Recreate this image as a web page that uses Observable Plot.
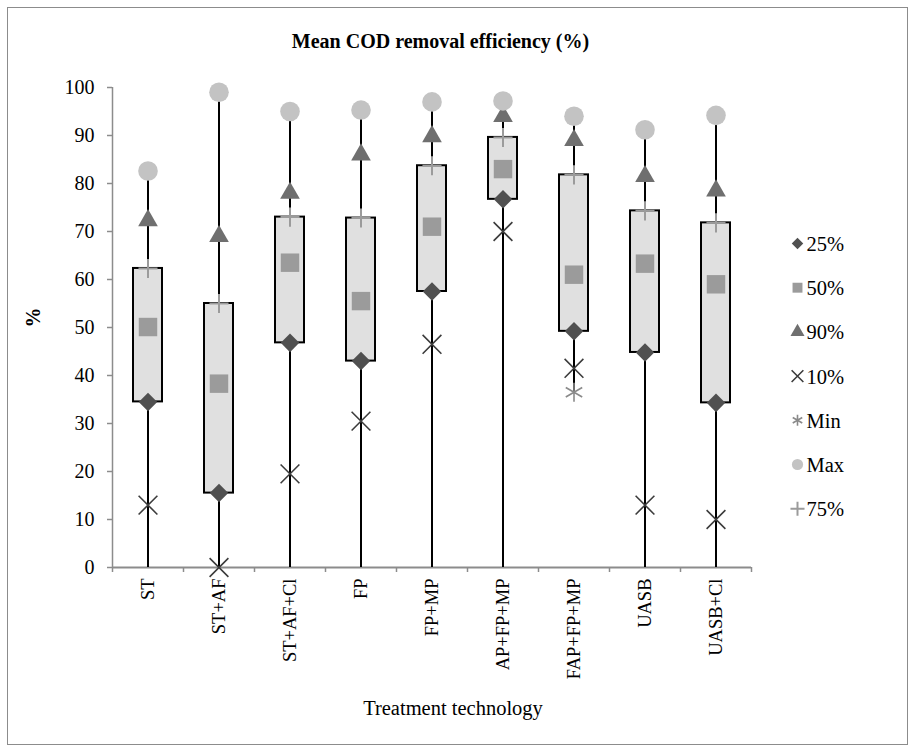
<!DOCTYPE html>
<html><head><meta charset="utf-8">
<script src="https://cdn.jsdelivr.net/npm/d3@7"></script>
<script src="https://cdn.jsdelivr.net/npm/@observablehq/plot@0.6"></script>
<style>
body{margin:0;background:#fff;}
#wrap{position:relative;width:910px;height:748px;}
#border{position:absolute;left:7px;top:7px;width:899px;height:736px;border:1px solid #8c8c8c;pointer-events:none;}
</style></head><body><div id="wrap"><div id="border"></div></div>
<script>
const categories = ["ST","ST+AF","ST+AF+Cl","FP","FP+MP","AP+FP+MP","FAP+FP+MP","UASB","UASB+Cl"];
const p25 = [34.5, 15.5, 46.8, 43.0, 57.5, 76.7, 49.2, 44.8, 34.3];
const p50 = [50.1, 38.3, 63.5, 55.5, 71.0, 83.0, 61.0, 63.3, 59.0];
const p75 = [62.3, 55.0, 73.0, 72.8, 83.7, 89.6, 81.8, 74.3, 71.8];
const p90 = [72.3, 69.0, 78.0, 86.0, 89.8, 94.0, 89.0, 81.5, 78.5];
const p10 = [13.0, 0.0, 19.5, 30.5, 46.5, 70.0, 41.5, 13.0, 10.0];
const minV = [0, 0, 0, 0, 0, 0, 36.5, 0, 0];
const maxV = [82.6, 99.0, 95.0, 95.3, 97.0, 97.2, 94.0, 91.2, 94.2];
const yTicks = [0,10,20,30,40,50,60,70,80,90,100];
const xDomain = [-0.5, categories.length - 0.5];

const rows = categories.map((c, i) => ({i, cat: c, p25: p25[i], p50: p50[i], p75: p75[i], p90: p90[i], p10: p10[i], min: minV[i], max: maxV[i]}));

const serif = "'Liberation Serif','Times New Roman','DejaVu Serif',serif";
const gray = "#8c8c8c";

const styles = {
  p25: {symbol: "square", rotate: 45, fill: "#505050", r: 7.4, lr: 4.6},
  p50: {symbol: "square", fill: "#9b9b9b", r: 10.4, lr: 5.6},
  p90: {symbol: "triangle", fill: "#6f6f6f", r: 7.3, lr: 5.2},
  p10: {symbol: "times", stroke: "#3c3c3c", strokeWidth: 1.6, r: 8.6, lr: 5.4},
  min: {symbol: "asterisk", stroke: "#8a8a8a", strokeWidth: 1.6, r: 9, lr: 5.2},
  max: {symbol: "circle", fill: "#c3c3c3", r: 9.8, lr: 5.6},
  p75: {symbol: "plus", stroke: "#9b9b9b", strokeWidth: 2, r: 6.2, lr: 4.6}
};
const legendItems = [
  {key: "p25", label: "25%"},
  {key: "p50", label: "50%"},
  {key: "p90", label: "90%"},
  {key: "p10", label: "10%"},
  {key: "min", label: "Min"},
  {key: "max", label: "Max"},
  {key: "p75", label: "75%"}
];

function dotOpts(key, extra) {
  const s = styles[key];
  const o = {symbol: s.symbol, r: s.r};
  if (s.rotate) o.rotate = s.rotate;
  if (s.fill) { o.fill = s.fill; o.stroke = "none"; }
  if (s.stroke) { o.stroke = s.stroke; o.strokeWidth = s.strokeWidth; o.fill = "none"; }
  return Object.assign(o, extra);
}

const marks = [
  Plot.axisY({ticks: yTicks, tickSize: 5, tickPadding: 13, stroke: gray, color: "#000", fontSize: 20, label: null, strokeWidth: 1.5}),
  Plot.axisX({ticks: d3.range(xDomain[0], xDomain[1] + 0.01, 1), tickFormat: () => "", tickSize: 5, stroke: gray, strokeWidth: 1.5, label: null}),
  Plot.axisX({ticks: d3.range(categories.length), tickFormat: i => categories[i], tickSize: 0, tickRotate: -90, tickPadding: 11, fontSize: 18.5, color: "#000", label: null}),
  Plot.ruleX([xDomain[0]], {stroke: gray, strokeWidth: 1.5}),
  Plot.ruleY([0], {stroke: gray, strokeWidth: 2}),
  Plot.ruleX(rows, {x: "i", y1: "min", y2: "max", stroke: "#000", strokeWidth: 2}),
  Plot.rect(rows, {x1: "i", x2: "i", y1: "p25", y2: "p75", insetLeft: -14.5, insetRight: -14.5, fill: "#e0e0e0", stroke: "#000", strokeWidth: 2}),
  Plot.dot(rows, dotOpts("p25", {x: "i", y: "p25"})),
  Plot.dot(rows, dotOpts("p50", {x: "i", y: "p50"})),
  Plot.dot(rows, dotOpts("p90", {x: "i", y: "p90"})),
  Plot.dot(rows, dotOpts("p10", {x: "i", y: "p10"})),
  Plot.dot(rows.filter(d => d.min > 0), dotOpts("min", {x: "i", y: "min"})),
  Plot.dot(rows, dotOpts("max", {x: "i", y: "max"})),
  Plot.dot(rows, dotOpts("p75", {x: "i", y: "p75"})),
  Plot.text(["Mean COD removal efficiency (%)"], {frameAnchor: "top", lineAnchor: "middle", dx: 8.5, dy: -46, fontSize: 20, fontWeight: "bold", fill: "#000"}),
  Plot.text(["%"], {frameAnchor: "left", lineAnchor: "middle", dx: -79, rotate: -90, fontSize: 20, fontWeight: "bold", fill: "#000"}),
  Plot.text(["Treatment technology"], {frameAnchor: "bottom", lineAnchor: "middle", dx: 21, dy: 141, fontSize: 20.5, fill: "#000"})
];

legendItems.forEach((it, k) => {
  const dy = 156 + k * 44.2;
  const s = styles[it.key];
  marks.push(Plot.dot([it], dotOpts(it.key, {frameAnchor: "top-right", dx: 46, dy, r: s.lr})));
  marks.push(Plot.text([it], {text: "label", frameAnchor: "top-right", lineAnchor: "middle", dx: 55, dy: dy + 1, textAnchor: "start", fontSize: 20.5, fill: "#000"}));
});

const chart = Plot.plot({
  width: 910,
  height: 748,
  marginLeft: 112,
  marginRight: 159,
  marginTop: 87,
  marginBottom: 181,
  style: {fontFamily: serif, background: "transparent", overflow: "visible"},
  x: {domain: xDomain},
  y: {domain: [0, 100]},
  marks
});
document.getElementById("wrap").appendChild(chart);
chart.style.position = "absolute";
chart.style.left = "0";
chart.style.top = "0";
</script>
</body></html>
